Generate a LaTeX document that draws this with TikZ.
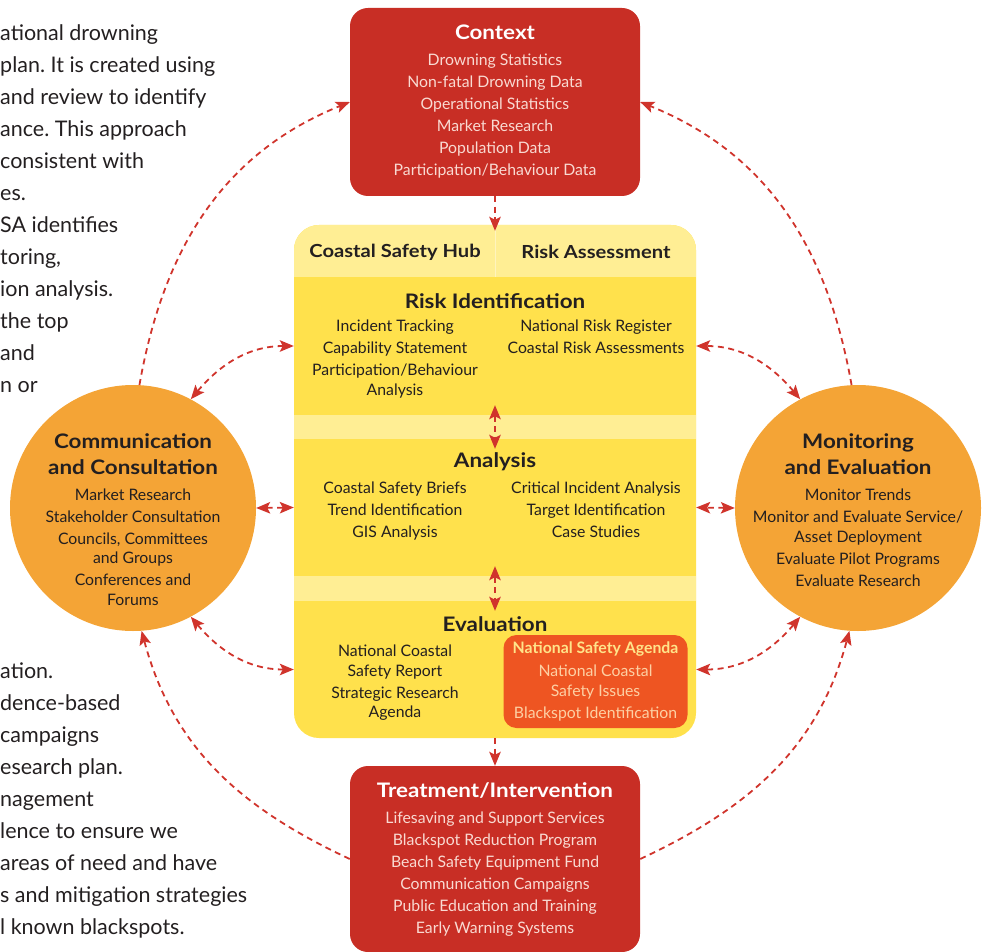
\documentclass[tikz,border=0pt]{standalone}
\usepackage{fontspec}
\setmainfont{Lato}
\newfontfamily\headfamily[FakeStretch=1.12]{Lato}
\usetikzlibrary{arrows.meta}

\definecolor{ctxred}{HTML}{C82E25}
\definecolor{palered}{HTML}{F9DAD2}
\definecolor{discorange}{HTML}{F4A436}
\definecolor{hubyellow}{HTML}{FFE14C}
\definecolor{bandyellow}{HTML}{FFEE94}
\definecolor{agendaorange}{HTML}{EE5522}
\definecolor{agendatitle}{HTML}{FFE48A}
\definecolor{agendatext}{HTML}{FDD0A4}
\definecolor{arrowred}{HTML}{D0342C}
\definecolor{ink}{HTML}{231F20}

\newcommand{\bodysize}{\fontsize{15.8}{22}\selectfont}
\newcommand{\headsize}{\fontsize{20}{22}\selectfont\headfamily\bfseries}
\newcommand{\hubsize}{\fontsize{18}{22}\selectfont\headfamily\bfseries}
\newcommand{\parsize}{\fontsize{21.5}{32}\selectfont\frenchspacing}

\begin{document}
\begin{tikzpicture}[x=1pt,y=1pt,
  >={Stealth[length=14pt,width=11.5pt,inset=3pt]},
  redbox/.style={rectangle, rounded corners=18pt, fill=ctxred, text=palered,
    minimum width=290pt, inner sep=0pt, align=center, font=\bodysize},
  bigdisc/.style={circle, fill=discorange, minimum size=246pt, inner sep=0pt},
  zone/.style={rectangle, minimum width=402pt, inner sep=0pt},
  blurb/.style={align=center, inner sep=0pt, text=ink, font=\bodysize},
  zonetitle/.style={inner sep=0pt, text=ink, font=\headsize},
  link/.style={draw=arrowred, line width=1.8pt, dash pattern=on 6pt off 4.5pt, ->},
  twoway/.style={link, <->}]

  \useasboundingbox (0,0) rectangle (985,-952);
  \clip (0,0) rectangle (985,-952);

  % text running behind the diagram
  \node(parA)[anchor=north west, inner sep=0pt, align=left, text=ink, font=\parsize] at (0,-24)
    {ational drowning\\plan. It is created using\\and review to identify\\ance. This approach\\
     consistent with\\es.\\SA identifies\\toring,\\ion analysis.\\the top\\and\\n or};
  \node(parB)[anchor=north west, inner sep=0pt, align=left, text=ink, font=\parsize] at (0,-663)
    {ation.\\dence-based\\campaigns\\esearch plan.\\nagement\\lence to ensure we\\
     areas of need and have\\s and mitigation strategies\\l known blackspots.};

  % central panel
  \fill[hubyellow, rounded corners=25pt] (294,-225) rectangle (696,-738);
  \begin{scope}
    \clip[rounded corners=25pt] (294,-225) rectangle (696,-738);
    \fill[bandyellow] (294,-225) rectangle (696,-277);
    \fill[bandyellow] (294,-415) rectangle (696,-439);
    \fill[bandyellow] (294,-576) rectangle (696,-601);
  \end{scope}

  \node(hdr)[zone, minimum height=52pt] at (495,-251) {};
  \node(riskid)[zone, minimum height=138pt] at (495,-346) {};
  \node(ana)[zone, minimum height=137pt] at (495,-507.5) {};
  \node(evalu)[zone, minimum height=137pt] at (495,-669.5) {};
  \draw[white, opacity=0.4, line width=0.6pt] (hdr.north) -- (hdr.south);

  \node(hub)[inner sep=0pt, text=ink, font=\hubsize] at (395,-252) {Coastal Safety Hub};
  \node(assess)[inner sep=0pt, text=ink, font=\hubsize] at (596,-252) {Risk Assessment};

  \node(riskidT)[zonetitle] at (495,-301) {Risk Identification};
  \node(riskidL)[blurb, anchor=north] at (395,-320)
    {Incident Tracking\\Capability Statement\\Participation/Behaviour\\[-2.5pt]Analysis};
  \node(riskidR)[blurb, anchor=north] at (596,-320)
    {National Risk Register\\Coastal Risk Assessments};

  \node(anaT)[zonetitle] at (495,-462) {Analysis};
  \node(anaL)[blurb, anchor=north] at (395,-482)
    {Coastal Safety Briefs\\Trend Identification\\GIS Analysis};
  \node(anaR)[blurb, anchor=north] at (596,-482)
    {Critical Incident Analysis\\Target Identification\\Case Studies};

  \node(evaluT)[zonetitle] at (495,-624) {Evaluation};
  \node(evaluL)[blurb, anchor=north] at (395,-645)
    {National Coastal\\[-2.5pt]Safety Report\\Strategic Research\\[-2.5pt]Agenda};
  \node(agenda)[rectangle, rounded corners=13pt, fill=agendaorange, text=agendatext,
    minimum width=184pt, minimum height=93pt, inner sep=0pt, align=center, font=\bodysize]
    at (595.5,-681.5)
    {{\bfseries\color{agendatitle}National Safety Agenda}\\[1pt]National Coastal\\[-2.5pt]Safety Issues\\Blackspot Identification};

  % red boxes
  \node(ctx)[redbox, minimum height=188pt] at (495,-102)
    {{\headsize\color{white}Context}\\[4pt]Drowning Statistics\\Non-fatal Drowning Data\\Operational Statistics\\
     Market Research\\Population Data\\Participation/Behaviour Data};
  \node(treat)[redbox, minimum height=186pt] at (495,-859)
    {{\headsize\color{white}Treatment/Intervention}\\[4pt]Lifesaving and Support Services\\Blackspot Reduction Program\\
     Beach Safety Equipment Fund\\Communication Campaigns\\Public Education and Training\\Early Warning Systems};

  % side discs
  \node(comm)[bigdisc] at (133,-508) {};
  \node(commT)[blurb, anchor=north] at (133,-433)
    {{\headsize Communication}\\[4pt]{\headsize and Consultation}\\[4pt]Market Research\\Stakeholder Consultation\\
     Councils, Committees\\[-2.5pt]and Groups\\Conferences and\\[-2.5pt]Forums};
  \node(mon)[bigdisc] at (858,-508) {};
  \node(monT)[blurb, anchor=north] at (858,-433)
    {{\headsize Monitoring}\\[4pt]{\headsize and Evaluation}\\[4pt]Monitor Trends\\Monitor and Evaluate Service/\\[-2pt]
     Asset Deployment\\Evaluate Pilot Programs\\Evaluate Research};

  % connectors
  \draw[link, shorten >=-6pt] (ctx.south) -- (hdr.north);
  \draw[twoway, shorten <=-10pt, shorten >=-10pt] (riskid.south) -- (ana.north);
  \draw[twoway, shorten <=-10pt, shorten >=-10pt] (ana.south) -- (evalu.north);
  \draw[link] (evalu.south) -- (treat.north);

  \draw[link] (comm.87) to[out=80, in=202] (ctx.west);
  \draw[link] (mon.93) to[out=100, in=-22] (ctx.east);
  \draw[link] (treat.west) to[out=155, in=-75] (comm.-86);
  \draw[link] (treat.east) to[out=25, in=-105] (mon.-94);

  \draw[twoway] (comm.62) to[out=50, in=180] (riskid.west);
  \draw[twoway] (comm.east) -- (ana.west);
  \draw[twoway] (comm.-62) to[out=-50, in=180] (evalu.west);
  \draw[twoway] (mon.118) to[out=130, in=0] (riskid.east);
  \draw[twoway] (mon.west) -- (ana.east);
  \draw[twoway] (mon.-118) to[out=-130, in=0] (evalu.east);
\end{tikzpicture}
\end{document}
